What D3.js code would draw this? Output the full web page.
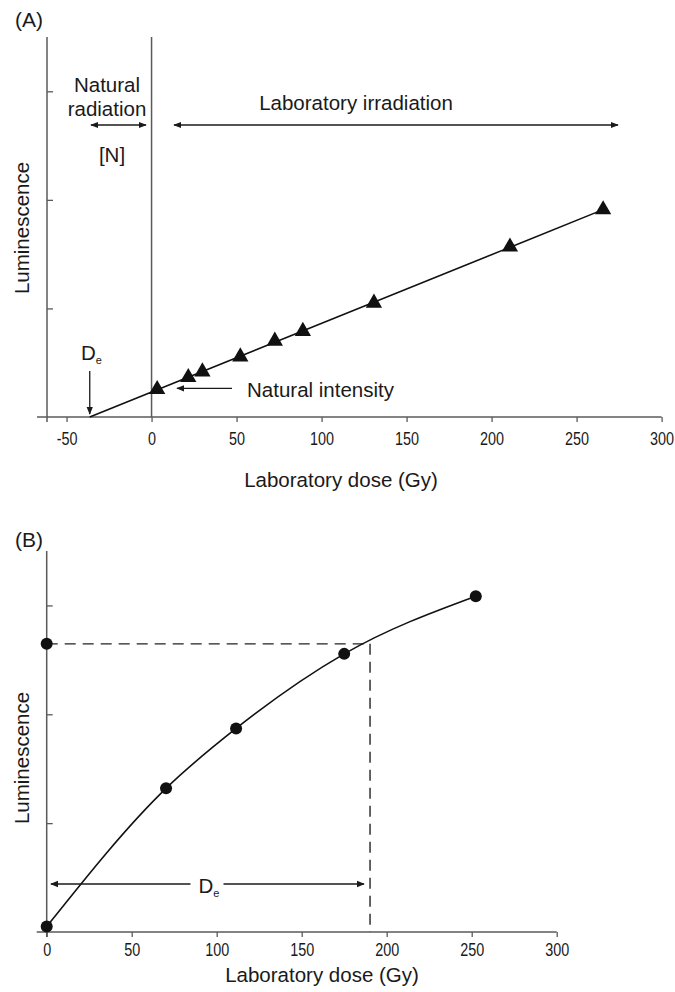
<!DOCTYPE html>
<html>
<head>
<meta charset="utf-8">
<script src="https://cdn.jsdelivr.net/npm/d3@7"></script>
<style>
  html, body { margin: 0; padding: 0; background: #fff; }
  svg { display: block; }
  .lbl { font-family: "Liberation Sans", Arial, sans-serif; fill: #1a1a1a; }
  .tick text { font-family: "Liberation Sans", Arial, sans-serif; fill: #1a1a1a; }
</style>
</head>
<body>
<svg id="chart" width="675" height="992"></svg>
<script>
// Panel A: additive dose — regenerated luminescence after laboratory doses
const doseA = [3.3, 21.6, 29.9, 52.2, 72.5, 89, 130.8, 210.8, 265.6];
const lumA  = [0.255, 0.365, 0.417, 0.555, 0.70, 0.79, 1.05, 1.567, 1.91];
const ticksXA = [-50, 0, 50, 100, 150, 200, 250, 300];

// Panel B: single-aliquot regenerative dose — growth curve
const doseB = [0, 70.2, 111.4, 175, 252.4];
const lumB  = [0.05, 1.32, 1.87, 2.555, 3.085];
const naturalB = 2.647;   // natural signal on the luminescence axis
const deB = 190.2;        // equivalent dose
const ticksXB = [0, 50, 100, 150, 200, 250, 300];
const ticksY = [1, 2, 3];

const svg = d3.select("#chart");
const axisColor = "#5a5a5a";
const FS = 20.5;

// arrowhead marker
const defs = svg.append("defs");
defs.append("marker").attr("id", "ah")
  .attr("viewBox", "0 0 10 10").attr("refX", 9).attr("refY", 5)
  .attr("markerWidth", 8).attr("markerHeight", 8).attr("markerUnits", "userSpaceOnUse")
  .attr("orient", "auto-start-reverse")
  .append("path").attr("d", "M0,1 L10,5 L0,9 Z").attr("fill", "#1a1a1a");

function arrow(g, x1, y1, x2, y2, both) {
  const l = g.append("line").attr("x1", x1).attr("y1", y1).attr("x2", x2).attr("y2", y2)
    .attr("stroke", "#1a1a1a").attr("stroke-width", 1.3)
    .attr("marker-end", "url(#ah)");
  if (both) l.attr("marker-start", "url(#ah)");
  return l;
}

function label(g, x, y, txt, anchor) {
  return g.append("text").attr("class", "lbl").attr("x", x).attr("y", y)
    .attr("font-size", FS).attr("text-anchor", anchor || "start").text(txt);
}

function drawAxes(g, x, y, ticksX, yTop, pad) {
  const y0 = y(0);
  // x axis
  const ax = g.append("g").attr("transform", `translate(0,${y0})`)
    .call(d3.axisBottom(x).tickValues(ticksX).tickSize(5).tickSizeOuter(0).tickPadding(pad)
      .tickFormat(d => String(d)));
  ax.select(".domain").remove();
  ax.selectAll(".tick line").attr("stroke", axisColor).attr("stroke-width", 1.3);
  // condensed tick numerals
  ax.selectAll(".tick text").attr("font-size", 18).attr("transform", "scale(0.8,1)");
  g.append("line").attr("x1", x.range()[0] - 10).attr("x2", x(300))
    .attr("y1", y0).attr("y2", y0).attr("stroke", axisColor).attr("stroke-width", 1.5);
  // y axis (unlabelled ticks)
  const ay = g.append("g").attr("transform", `translate(${x.range()[0]},0)`)
    .call(d3.axisRight(y).tickValues(ticksY).tickSize(6).tickFormat(""));
  ay.select(".domain").remove();
  ay.selectAll(".tick line").attr("stroke", axisColor).attr("stroke-width", 1.3);
  g.append("line").attr("x1", x.range()[0]).attr("x2", x.range()[0])
    .attr("y1", yTop).attr("y2", y0 + 5).attr("stroke", axisColor).attr("stroke-width", 1.5);
}

// ---------- Panel A ----------
const xA = d3.scaleLinear().domain([-61.5, 300]).range([47, 661.6]);
const yA = d3.scaleLinear().domain([0, 3.5]).range([417, 37]);
const gA = svg.append("g");
drawAxes(gA, xA, yA, ticksXA, 37, 10);

// zero-dose divider
gA.append("line").attr("x1", xA(0)).attr("x2", xA(0)).attr("y1", 37).attr("y2", yA(0))
  .attr("stroke", axisColor).attr("stroke-width", 1.5);

// least-squares line through the additive-dose points, extrapolated to zero signal
const n = doseA.length;
const mx = d3.mean(doseA), my = d3.mean(lumA);
const slope = d3.sum(doseA, (d, i) => (d - mx) * (lumA[i] - my)) / d3.sum(doseA, d => (d - mx) ** 2);
const icpt = my - slope * mx;
const deA = -icpt / slope;
gA.append("line")
  .attr("x1", xA(deA)).attr("y1", yA(0))
  .attr("x2", xA(doseA[n - 1])).attr("y2", yA(icpt + slope * doseA[n - 1]))
  .attr("stroke", "#111").attr("stroke-width", 1.6);

gA.selectAll("path.tri").data(doseA).join("path").attr("class", "tri")
  .attr("d", d3.symbol(d3.symbolTriangle, 115))
  .attr("transform", (d, i) => `translate(${xA(d)},${yA(lumA[i])})`)
  .attr("fill", "#111");

// annotations
gA.append("text").attr("class", "lbl").attr("x", 15).attr("y", 27).attr("font-size", 21).text("(A)");
label(gA, 107, 92, "Natural", "middle");
label(gA, 107, 116, "radiation", "middle");
arrow(gA, 91, 125, 146, 125, true);
label(gA, 112, 162, "[N]", "middle");
arrow(gA, 174, 125, 618, 125, true);
label(gA, 356, 110, "Laboratory irradiation", "middle");
const deTxtA = label(gA, 81, 360, "");
deTxtA.append("tspan").text("D");
deTxtA.append("tspan").attr("font-size", 11).attr("dy", 4).text("e");
arrow(gA, xA(deA), 371, xA(deA), yA(0) - 3, false);
arrow(gA, 232, yA(lumA[0]) - 1, 177, yA(lumA[0]) - 1, false);
label(gA, 247, 397, "Natural intensity");
label(gA, 341, 487, "Laboratory dose (Gy)", "middle");
gA.append("text").attr("class", "lbl").attr("font-size", FS).attr("text-anchor", "middle")
  .attr("transform", `translate(29,228) rotate(-90)`).text("Luminescence");

// ---------- Panel B ----------
const xB = d3.scaleLinear().domain([0, 300]).range([46.7, 556.7]);
const yB = d3.scaleLinear().domain([0, 3.5]).range([932, 551]);
const gB = svg.append("g");
drawAxes(gB, xB, yB, ticksXB, 551, 6);

// dashed read-off lines: natural signal -> growth curve -> dose axis
gB.append("line").attr("x1", xB(0)).attr("x2", xB(deB)).attr("y1", yB(naturalB)).attr("y2", yB(naturalB))
  .attr("stroke", "#222").attr("stroke-width", 1.4).attr("stroke-dasharray", "11,7");
gB.append("line").attr("x1", xB(deB)).attr("x2", xB(deB)).attr("y1", yB(naturalB)).attr("y2", yB(0))
  .attr("stroke", "#222").attr("stroke-width", 1.4).attr("stroke-dasharray", "11,7");

// growth curve
gB.append("path").datum(doseB.map((d, i) => [d, lumB[i]]))
  .attr("d", d3.line().x(d => xB(d[0])).y(d => yB(d[1])).curve(d3.curveMonotoneX))
  .attr("fill", "none").attr("stroke", "#111").attr("stroke-width", 1.6);

gB.selectAll("circle.pt").data(doseB).join("circle").attr("class", "pt")
  .attr("cx", d => xB(d)).attr("cy", (d, i) => yB(lumB[i])).attr("r", 6).attr("fill", "#111");
gB.append("circle").attr("cx", xB(0)).attr("cy", yB(naturalB)).attr("r", 6).attr("fill", "#111");

// De double arrow with label
arrow(gB, xB(2.5), 884, xB(deB) - 6, 884, true);
const deMid = (xB(2.5) + xB(deB) - 6) / 2;
gB.append("rect").attr("x", deMid - 17).attr("y", 868).attr("width", 33).attr("height", 28).attr("fill", "#fff");
const deTxtB = label(gB, deMid - 9, 893, "");
deTxtB.append("tspan").text("D");
deTxtB.append("tspan").attr("font-size", 11).attr("dy", 4).text("e");

gB.append("text").attr("class", "lbl").attr("x", 15).attr("y", 547).attr("font-size", 21).text("(B)");
label(gB, 322, 982, "Laboratory dose (Gy)", "middle");
gB.append("text").attr("class", "lbl").attr("font-size", FS).attr("text-anchor", "middle")
  .attr("transform", `translate(29,758) rotate(-90)`).text("Luminescence");
</script>
</body>
</html>
